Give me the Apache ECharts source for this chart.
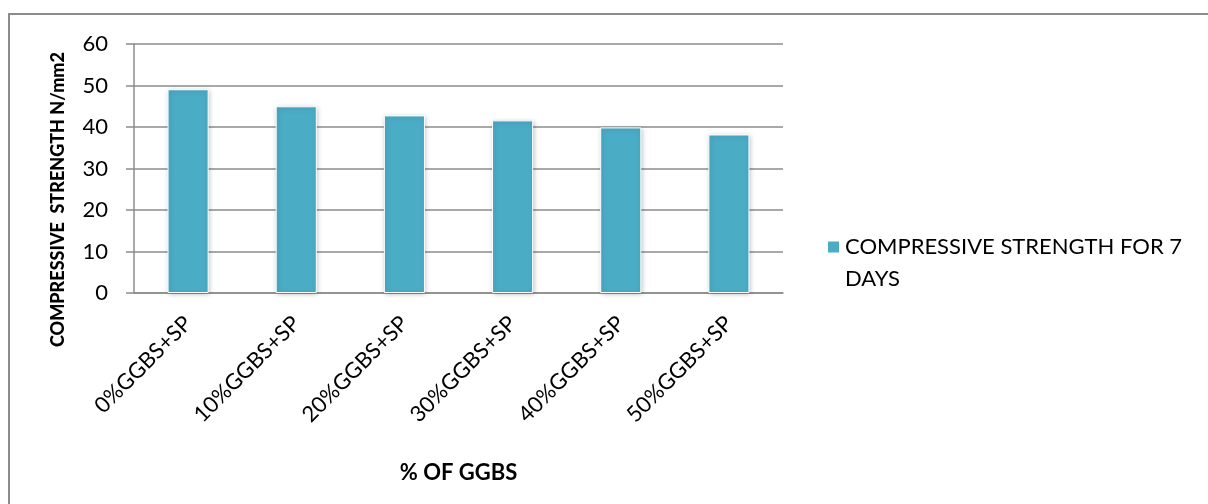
<!DOCTYPE html>
<html>
<head>
<meta charset="utf-8">
<script src="https://cdn.jsdelivr.net/npm/echarts@6/dist/echarts.min.js"></script>
<style>
  html, body { margin: 0; padding: 0; width: 1208px; height: 504px; overflow: hidden; background: #fff; }
  #frame { position: absolute; left: 8px; top: 13px; width: 1400px; height: 700px; border-left: 2px solid #8c8c8c; border-top: 2px solid #8c8c8c; }
  #chart { position: absolute; left: 0; top: 0; width: 1208px; height: 504px; }
</style>
</head>
<body>
<div id="frame"></div>
<div id="chart"></div>
<script>
const categories = ['0%GGBS+SP', '10%GGBS+SP', '20%GGBS+SP', '30%GGBS+SP', '40%GGBS+SP', '50%GGBS+SP'];
const strength7Days = [49.1, 45.0, 42.8, 41.6, 39.9, 38.2];
const seriesName = 'COMPRESSIVE STRENGTH FOR 7 DAYS';
const yTitle = 'COMPRESSIVE  STRENGTH N/mm2';
const xTitle = '% OF GGBS';

const FONT = 'Lato, "Open Sans", sans-serif';
const chart = echarts.init(document.getElementById('chart'), null, { renderer: 'canvas' });
chart.setOption({
  backgroundColor: 'transparent',
  animation: false,
  textStyle: { fontFamily: FONT, color: '#000' },
  grid: { left: 134, right: 425, top: 44, bottom: 211, containLabel: false },
  legend: {
    data: [seriesName],
    left: 826,
    top: 199,
    padding: 0,
    icon: 'rect',
    itemWidth: 13,
    itemHeight: 13,
    itemGap: 6,
    formatter: function () { return '\nCOMPRESSIVE STRENGTH FOR 7\nDAYS'; },
    textStyle: { fontFamily: FONT, fontSize: 22, color: '#000', lineHeight: 32 }
  },
  xAxis: {
    type: 'category',
    data: categories,
    name: xTitle,
    nameLocation: 'middle',
    nameGap: 169,
    nameTextStyle: { fontFamily: FONT, fontSize: 22, fontWeight: 'bold', color: '#000' },
    axisLine: { lineStyle: { color: '#8c8c8c', width: 1.5 } },
    axisTick: { show: false },
    axisLabel: { rotate: 45, fontSize: 22, color: '#000', margin: 27, interval: 0, fontFamily: FONT }
  },
  yAxis: {
    type: 'value',
    min: 0,
    max: 60,
    interval: 10,
    name: yTitle,
    nameLocation: 'middle',
    nameGap: 67,
    nameTextStyle: { fontFamily: FONT, fontSize: 18, fontWeight: 900, color: '#000', padding: [0, 62, 0, 0] },
    axisLine: { show: true, lineStyle: { color: '#8c8c8c', width: 1.5 } },
    axisTick: { show: true, length: 8, lineStyle: { color: '#8c8c8c', width: 1.5 } },
    axisLabel: { fontSize: 22, color: '#000', margin: 26, fontFamily: FONT },
    splitLine: { show: true, lineStyle: { color: '#8c8c8c', width: 1.5 } }
  },
  series: [{
    name: seriesName,
    type: 'bar',
    data: strength7Days,
    barWidth: '38%',
    itemStyle: {
      color: '#4BACC6',
      borderColor: '#ffffff',
      borderWidth: 1,
      shadowColor: 'rgba(0,0,0,0.25)',
      shadowBlur: 5,
      shadowOffsetX: 1,
      shadowOffsetY: 1
    }
  }]
});
</script>
</body>
</html>
